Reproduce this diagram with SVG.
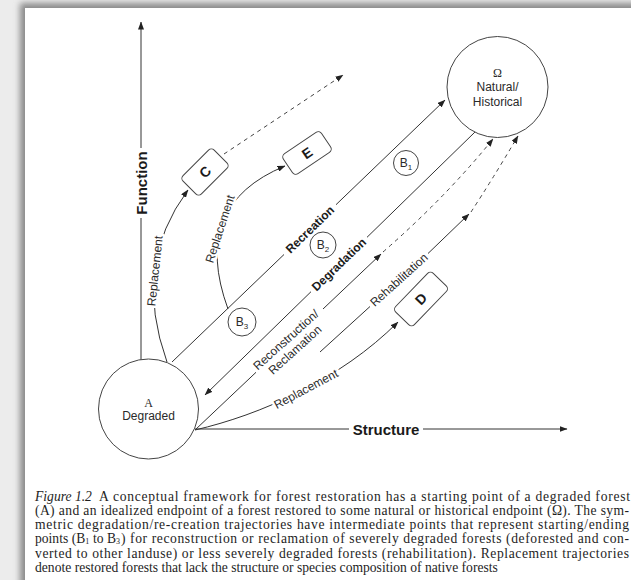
<svg xmlns="http://www.w3.org/2000/svg" width="631" height="580" viewBox="0 0 631 580">
<style>
.ln{fill:none;stroke:#333;stroke-width:1}
.ds{fill:none;stroke:#444;stroke-width:1;stroke-dasharray:4,4}
.nd{fill:#fff;stroke:#444;stroke-width:1}
.t{font-family:"Liberation Sans",Arial,sans-serif;font-size:12px;fill:#2a2a2a}
.b{font-family:"Liberation Sans",Arial,sans-serif;font-weight:bold;fill:#1a1a1a}
.s{font-family:"Liberation Serif","Times New Roman",serif;font-size:12px;fill:#2a2a2a}
.halo{stroke:#fff;stroke-width:5;paint-order:stroke;stroke-linejoin:round}
.cap{font-family:"Liberation Serif","Times New Roman",serif;font-size:13.6px;fill:#1e1e1e}
.sub{font-size:8px}
</style>
<defs>
<marker id="ah" markerWidth="8" markerHeight="6" refX="7.5" refY="3" orient="auto" markerUnits="userSpaceOnUse"><path d="M0,0 L8,3 L0,6 Z" fill="#222"/></marker>
<filter id="sh" x="-10%" y="-10%" width="120%" height="120%"><feGaussianBlur stdDeviation="3"/></filter>
</defs>
<rect x="0" y="0" width="631" height="580" fill="#ececec"/>
<rect x="20" y="3" width="700" height="700" fill="#8a8a8a" filter="url(#sh)"/>
<rect x="25" y="8" width="620" height="590" fill="#fff"/>

<g id="connectors">
<path class="ln" d="M141,360 V218 M141,148 V22" marker-end="url(#ah)"/>
<path class="ln" d="M195,429 H349 M423,429 H567" marker-end="url(#ah)"/>
<path class="ln" d="M172,362 L284,254.5 M336,204.7 L445,100" marker-end="url(#ah)"/>
<path class="ln" d="M475,132 L367,237.3 M311,291.7 L205,395" marker-end="url(#ah)"/>
<path class="ln" d="M195,430 L256,372.3 M323,309 L381,254" marker-end="url(#ah)"/>
<path class="ds" d="M383,252 Q445,198 493,139" marker-end="url(#ah)"/>
<path class="ln" d="M320,352 L370,306.5 M428,253.5 L469,214" marker-end="url(#ah)"/>
<path class="ds" d="M471,212 Q492,180 518,136" marker-end="url(#ah)"/>
<path class="ln" d="M195,430 C260,415 340,380 398,322" marker-end="url(#ah)"/>
<path class="ln" d="M167,362 Q132,265 188,190" marker-end="url(#ah)"/>
<path class="ln" d="M228,309 Q190,205 285,166" marker-end="url(#ah)"/>
<path class="ds" d="M224,154 L343,75" marker-end="url(#ah)"/>
<text class="b" font-size="15" text-anchor="middle" dominant-baseline="central" transform="translate(141,183) rotate(-90)">Function</text>
<text class="b" font-size="15" text-anchor="middle" dominant-baseline="central" x="386" y="429">Structure</text>
<text class="b" font-size="12" text-anchor="middle" dominant-baseline="central" transform="translate(310,229.6) rotate(-44)">Recreation</text>
<text class="b" font-size="12" text-anchor="middle" dominant-baseline="central" transform="translate(339,264.5) rotate(-44)">Degradation</text>
<text class="t" text-anchor="middle" dominant-baseline="central" transform="translate(286,340) rotate(-42)">Reconstruction/</text>
<text class="t" text-anchor="middle" dominant-baseline="central" transform="translate(295,350) rotate(-42)">Reclamation</text>
<text class="t" text-anchor="middle" dominant-baseline="central" transform="translate(399,280) rotate(-42)">Rehabilitation</text>
<text class="t halo" text-anchor="middle" dominant-baseline="central" transform="translate(306,389) rotate(-28)">Replacement</text>
<text class="t halo" text-anchor="middle" dominant-baseline="central" transform="translate(155,271) rotate(-84)">Replacement</text>
<text class="t halo" text-anchor="middle" dominant-baseline="central" transform="translate(220,229) rotate(-72)">Replacement</text>
</g>

<g id="node-omega">
<circle class="nd" cx="497.5" cy="87" r="50.5"/>
<text class="s" x="497.5" y="77" text-anchor="middle">Ω</text>
<text class="t" x="497.5" y="91" text-anchor="middle">Natural/</text>
<text class="t" x="497.5" y="106" text-anchor="middle">Historical</text>
</g>
<g id="node-a">
<circle class="nd" cx="148.5" cy="409" r="50"/>
<text class="s" x="148.5" y="407" text-anchor="middle">A</text>
<text class="t" x="148.5" y="420" text-anchor="middle">Degraded</text>
</g>
<g id="node-b1">
<circle class="nd" cx="406" cy="163" r="12.5"/>
<text class="t" x="406" y="167" text-anchor="middle">B<tspan font-size="8" dy="3">1</tspan></text>
</g>
<g id="node-b2">
<circle class="nd" cx="323" cy="245" r="13"/>
<text class="t" x="323" y="249" text-anchor="middle">B<tspan font-size="8" dy="3">2</tspan></text>
</g>
<g id="node-b3">
<circle class="nd" cx="242" cy="322" r="14"/>
<text class="t" x="242" y="326" text-anchor="middle">B<tspan font-size="8" dy="3">3</tspan></text>
</g>
<g id="node-c" transform="translate(205,172) rotate(-45)">
<rect class="nd" x="-22" y="-13" width="44" height="26" rx="4"/>
<text class="b" font-size="14" text-anchor="middle" dominant-baseline="central">C</text>
</g>
<g id="node-e" transform="translate(307,153) rotate(-34)">
<rect class="nd" x="-23" y="-12" width="46" height="24" rx="4"/>
<text class="b" font-size="14" text-anchor="middle" dominant-baseline="central">E</text>
</g>
<g id="node-d" transform="translate(421,299) rotate(-46)">
<rect class="nd" x="-27" y="-13" width="54" height="26" rx="4"/>
<text class="b" font-size="14" text-anchor="middle" dominant-baseline="central">D</text>
</g>

<g id="caption" class="cap">
<text x="35" y="501" font-style="italic">Figure 1.2</text>
<text x="99" y="501" textLength="531" lengthAdjust="spacing">A conceptual framework for forest restoration has a starting point of a degraded forest</text>
<text x="35" y="515" textLength="594" lengthAdjust="spacing">(A) and an idealized endpoint of a forest restored to some natural or historical endpoint (Ω). The sym-</text>
<text x="35" y="529" textLength="594" lengthAdjust="spacing">metric degradation/re-creation trajectories have intermediate points that represent starting/ending</text>
<text x="35" y="543">points (B<tspan class="sub" dy="1">1</tspan></text>
<text x="93" y="543">to B<tspan class="sub" dy="1">3</tspan></text>
<text x="121" y="543" textLength="508" lengthAdjust="spacing">) for reconstruction or reclamation of severely degraded forests (deforested and con-</text>
<text x="35" y="558" textLength="594" lengthAdjust="spacing">verted to other landuse) or less severely degraded forests (rehabilitation). Replacement trajectories</text>
<text x="35" y="572">denote restored forests that lack the structure or species composition of native forests</text>
</g>
</svg>
